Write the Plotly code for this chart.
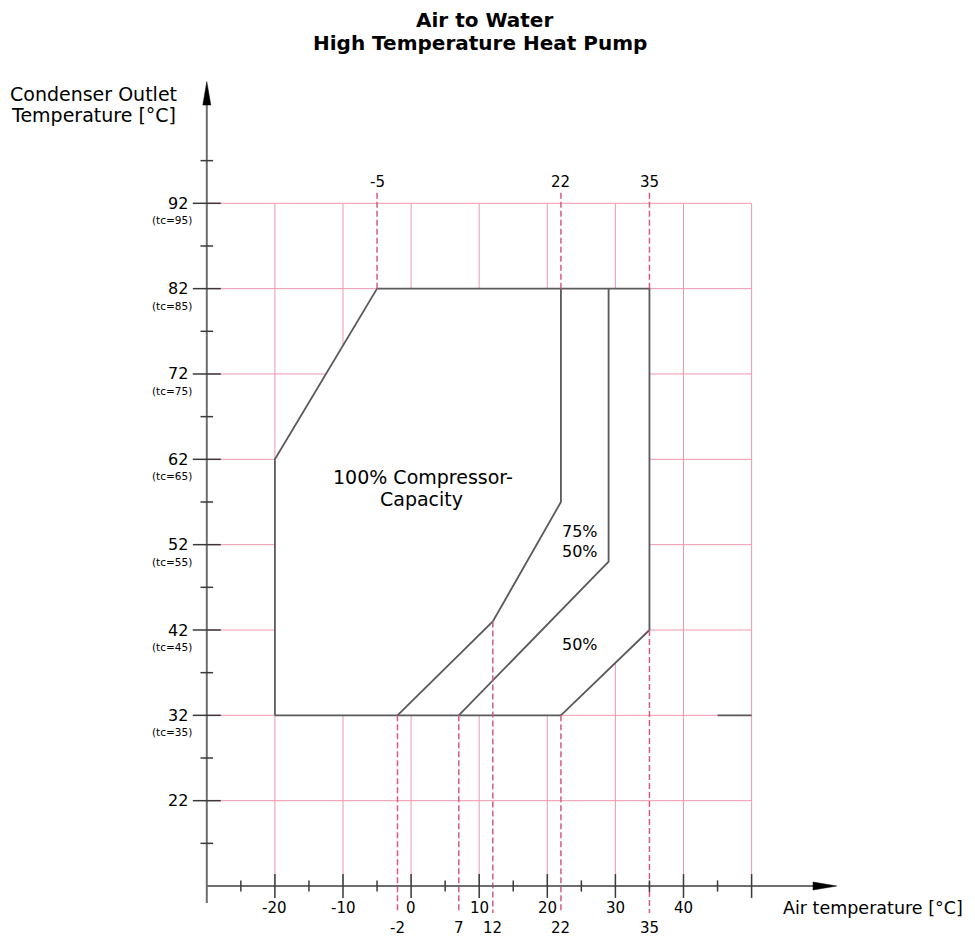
import plotly.graph_objects as go

# ---------------- data ----------------
envelope_x = [-20, -20, -5, 35, 35, 22, -20]
envelope_y = [32, 62, 82, 82, 42, 32, 32]

line100_x = [22, 22, 12, -2]
line100_y = [82, 57, 43, 32]

line75_x = [29, 29, 7]
line75_y = [82, 50, 32]

stub_x = [45, 50]
stub_y = [32, 32]

grid_x = [-20, -10, 0, 10, 20, 30, 40, 50]
grid_y = [22, 32, 42, 52, 62, 72, 82, 92]

x_major_ticks = [-20, -10, 0, 10, 20, 30, 40, 50]
x_minor_ticks = [-25, -15, -5, 5, 15, 25, 35, 45]
y_major_ticks = [22, 32, 42, 52, 62, 72, 82, 92]
y_minor_ticks = [17, 27, 37, 47, 57, 67, 77, 87, 97]

x_labels = [-20, -10, 0, 10, 20, 30, 40]
x_labels_special = [-2, 7, 12, 22, 35]
x_labels_top = [-5, 22, 35]
y_labels = [22, 32, 42, 52, 62, 72, 82, 92]
tc_labels = {32: "(tc=35)", 42: "(tc=45)", 52: "(tc=55)", 62: "(tc=65)",
             72: "(tc=75)", 82: "(tc=85)", 92: "(tc=95)"}

dash_top_x = [-5, 22, 35]
dash_top_from = [82, 82, 82]
dash_bot_x = [-2, 7, 12, 22, 35]
dash_bot_from = [32, 32, 43, 32, 42]

# ---------------- layout constants ----------------
PAGE_W, PAGE_H = 975, 938
OFF = 8                      # page body margin of the html page
W, H = PAGE_W - OFF, PAGE_H - OFF
X0PX, XS = 411.1, 6.81       # page pixel of 0 °C, px per °C
Y92PX, YS = 203.3, 8.534     # page pixel of 92 °C, px per °C
X_AXIS_Y = 12
Y_AXIS_X = -30
GRID_XMAX = 50
GRID_YMAX = 92


def px2x(p):
    return (p - X0PX) / XS


def px2y(p):
    return 92 + (Y92PX - p) / YS


DASH_TOP_END = px2y(192)
DASH_BOT_END = px2y(913)

GRID_C = "#ef98ae"
DASH_C = "#d65a82"
EDGE_C = "#5a5a5a"
AXIS_C = "#6e6e6e"
FONT = "DejaVu Sans"

fig = go.Figure()

# grid
gx, gy = [], []
for v in grid_x:
    gx += [v, v, None]
    gy += [X_AXIS_Y, GRID_YMAX, None]
for v in grid_y:
    gx += [Y_AXIS_X, GRID_XMAX, None]
    gy += [v, v, None]
fig.add_trace(go.Scatter(x=gx, y=gy, mode="lines", line=dict(color=GRID_C, width=1),
                         hoverinfo="skip", showlegend=False))

# envelope (white fill hides grid)
fig.add_trace(go.Scatter(x=envelope_x, y=envelope_y, mode="lines", fill="toself",
                         fillcolor="white", line=dict(color=EDGE_C, width=1.8),
                         showlegend=False))
fig.add_trace(go.Scatter(x=line100_x, y=line100_y, mode="lines",
                         line=dict(color=EDGE_C, width=1.8), showlegend=False))
fig.add_trace(go.Scatter(x=line75_x, y=line75_y, mode="lines",
                         line=dict(color=EDGE_C, width=1.8), showlegend=False))
fig.add_trace(go.Scatter(x=stub_x, y=stub_y, mode="lines",
                         line=dict(color=EDGE_C, width=1.8), showlegend=False))

# dashed reference lines
dx, dy = [], []
for v, f in zip(dash_top_x, dash_top_from):
    dx += [v, v, None]
    dy += [f, DASH_TOP_END, None]
for v, f in zip(dash_bot_x, dash_bot_from):
    dx += [v, v, None]
    dy += [f, DASH_BOT_END, None]
fig.add_trace(go.Scatter(x=dx, y=dy, mode="lines",
                         line=dict(color=DASH_C, width=1.5, dash="6px,3px"),
                         showlegend=False))

# axes lines
fig.add_trace(go.Scatter(x=[Y_AXIS_X, Y_AXIS_X], y=[px2y(903), px2y(100)], mode="lines",
                         line=dict(color=AXIS_C, width=2), showlegend=False))
fig.add_trace(go.Scatter(x=[Y_AXIS_X, px2x(820)], y=[X_AXIS_Y, X_AXIS_Y], mode="lines",
                         line=dict(color=AXIS_C, width=2), showlegend=False))


# ticks
def tick_trace(xs, ys, sym, size):
    return go.Scatter(x=xs, y=ys, mode="markers",
                      marker=dict(symbol=sym, size=size,
                                  line=dict(color="#3a3a3a", width=1.5)),
                      showlegend=False, hoverinfo="skip")


fig.add_trace(tick_trace(x_major_ticks, [X_AXIS_Y] * len(x_major_ticks), "line-ns", 17))
fig.add_trace(tick_trace(x_minor_ticks, [X_AXIS_Y] * len(x_minor_ticks), "line-ns", 8))
fig.add_trace(tick_trace([Y_AXIS_X] * len(y_major_ticks), y_major_ticks, "line-ew", 20))
fig.add_trace(tick_trace([Y_AXIS_X] * len(y_minor_ticks), y_minor_ticks, "line-ew", 9))

# arrowheads
ax_, ay_ = Y_AXIS_X, px2y(81.7)
yb = px2y(105)
hw = 4 / XS
shapes = [
    dict(type="path", xref="x", yref="y",
         path=f"M {ax_-hw},{yb} L {ax_},{ay_} L {ax_+hw},{yb} Z",
         fillcolor="black", line=dict(color="black", width=0.5)),
]
tipx = px2x(836.7)
bx = px2x(813)
hh = 4 / YS
shapes.append(dict(type="path", xref="x", yref="y",
                   path=f"M {bx},{X_AXIS_Y-hh} L {tipx},{X_AXIS_Y} L {bx},{X_AXIS_Y+hh} Z",
                   fillcolor="black", line=dict(color="black", width=0.5)))

ann = []


def text(x, y, s, size, xanchor="center", xshift=0, yshift=0, bold=False):
    ann.append(dict(x=x, y=y, xref="x", yref="y", text=s, showarrow=False,
                    xanchor=xanchor, yanchor="middle", xshift=xshift, yshift=yshift,
                    font=dict(family=FONT, size=size, color="black",
                              weight="bold" if bold else "normal")))


for v in y_labels:
    text(Y_AXIS_X, v, str(v), 16, xanchor="right", xshift=-17)
    if v in tc_labels:
        text(Y_AXIS_X, v, tc_labels[v], 10.5, xanchor="right", xshift=-13, yshift=-17)
for v in x_labels:
    text(v, X_AXIS_Y, str(v), 15, yshift=-22)
for v in x_labels_special:
    text(v, X_AXIS_Y, str(v), 15, yshift=-42)
for v in x_labels_top:
    text(v, GRID_YMAX, str(v), 15, yshift=21.5)

# titles / region labels
text(px2x(484), px2y(20), "Air to Water", 20, bold=True)
text(px2x(480), px2y(42.5), "High Temperature Heat Pump", 20, bold=True)
text(px2x(93), px2y(94), "Condenser Outlet", 19)
text(px2x(93), px2y(115), "Temperature [°C]", 19)
text(px2x(781), px2y(908), "Air temperature [°C]", 17.5, xanchor="left")
text(px2x(423), px2y(477), "100% Compressor-", 19)
text(px2x(421), px2y(499), "Capacity", 19)
text(px2x(580), px2y(531.5), "75%", 16)
text(px2x(580), px2y(551), "50%", 16)
text(px2x(580), px2y(644.5), "50%", 16)

fig.update_layout(
    width=W, height=H, autosize=False,
    margin=dict(l=0, r=0, t=0, b=0),
    paper_bgcolor="white", plot_bgcolor="white",
    xaxis=dict(range=[px2x(OFF), px2x(PAGE_W)], visible=False, fixedrange=True),
    yaxis=dict(range=[px2y(PAGE_H), px2y(OFF)], visible=False, fixedrange=True),
    shapes=shapes, annotations=ann, showlegend=False,
)

fig.write_html("out.html")
